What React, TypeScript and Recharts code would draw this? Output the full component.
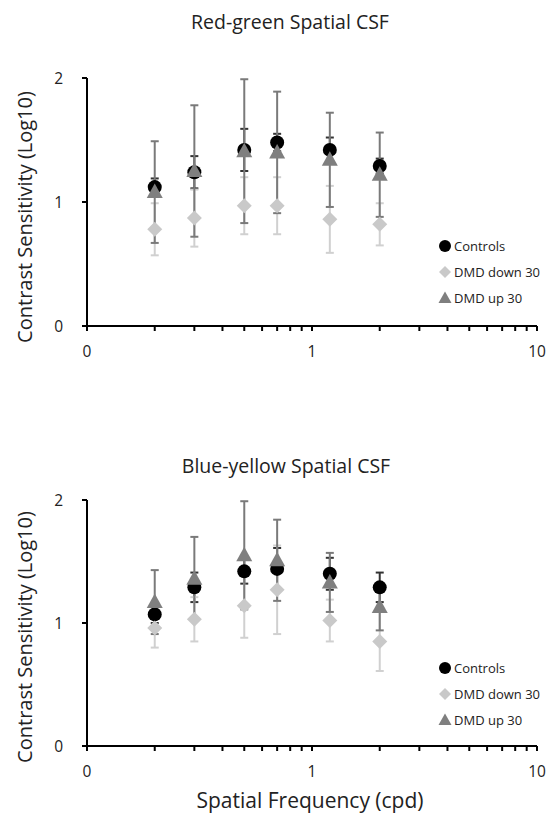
import React from "react";
import { ScatterChart, Scatter, XAxis, YAxis, ErrorBar, Legend } from "recharts";

// spatial frequencies (cpd)
const FREQ = [0.2, 0.3, 0.5, 0.7, 1.2, 2];

const X_TICKS = [0.1, 0.2, 0.3, 0.4, 0.5, 0.6, 0.7, 0.8, 0.9, 1, 2, 3, 4, 5, 6, 7, 8, 9, 10];
const X_LABELS: Record<string, string> = { "0.1": "0", "1": "1", "10": "10" };
const Y_TICKS = [0, 1, 2];

// Red-green
const RG_CONTROLS = [1.12, 1.24, 1.42, 1.48, 1.42, 1.29];
const RG_CONTROLS_ERR = [0.07, 0.13, 0.17, 0.07, 0.1, 0.06];
const RG_DOWN = [0.78, 0.87, 0.97, 0.97, 0.86, 0.82];
const RG_DOWN_ERR = [0.21, 0.23, 0.23, 0.23, 0.27, 0.17];
const RG_UP = [1.08, 1.25, 1.41, 1.4, 1.34, 1.22];
const RG_UP_ERR = [0.41, 0.53, 0.58, 0.49, 0.38, 0.34];

// Blue-yellow
const BY_CONTROLS = [1.07, 1.29, 1.42, 1.44, 1.4, 1.29];
const BY_CONTROLS_ERR = [0.07, 0.12, 0.1, 0.17, 0.13, 0.12];
const BY_DOWN = [0.96, 1.03, 1.14, 1.27, 1.02, 0.85];
const BY_DOWN_ERR = [0.16, 0.18, 0.26, 0.36, 0.17, 0.24];
const BY_UP = [1.17, 1.36, 1.55, 1.51, 1.33, 1.13];
const BY_UP_ERR = [0.26, 0.34, 0.44, 0.33, 0.24, 0.19];

const FONT = "'Open Sans', 'DejaVu Sans', sans-serif";
const TEXT = "#222";

const toPoints = (vals: number[], errs: number[]) =>
  FREQ.map((x, i) => ({ x, y: vals[i], err: errs[i] }));

const CircleShape = (p: any) => <circle cx={p.cx} cy={p.cy} r={7} fill="#000" />;
const DiamondShape = (p: any) => (
  <polygon
    points={`${p.cx},${p.cy - 7.5} ${p.cx + 7.5},${p.cy} ${p.cx},${p.cy + 7.5} ${p.cx - 7.5},${p.cy}`}
    fill="#c9c9c9"
  />
);
const TriangleShape = (p: any) => (
  <polygon
    points={`${p.cx},${p.cy - 8.5} ${p.cx + 8},${p.cy + 6} ${p.cx - 8},${p.cy + 6}`}
    fill="#7f7f7f"
  />
);

const LEGEND_ITEMS = [
  { name: "Controls", icon: <circle cx={8} cy={8} r={6} fill="#000" /> },
  { name: "DMD down 30", icon: <polygon points="8,2 14,8 8,14 2,8" fill="#c9c9c9" /> },
  { name: "DMD up 30", icon: <polygon points="8,1.5 14.5,13 1.5,13" fill="#7f7f7f" /> },
];

const renderLegend = () => (
  <div style={{ fontFamily: FONT, fontSize: 13, color: TEXT }}>
    {LEGEND_ITEMS.map((it) => (
      <div key={it.name} style={{ display: "flex", alignItems: "center", height: 26 }}>
        <svg width={16} height={16}>{it.icon}</svg>
        <span style={{ marginLeft: 1 }}>{it.name}</span>
      </div>
    ))}
  </div>
);

interface PanelProps {
  top: number;
  height: number;
  marginTop: number;
  marginBottom: number;
  legendTop: number;
  controls: number[];
  controlsErr: number[];
  down: number[];
  downErr: number[];
  up: number[];
  upErr: number[];
}

const Panel: React.FC<PanelProps> = (p) => {
  const axisStroke = { stroke: "#000", strokeWidth: 2 };
  return (
    <div style={{ position: "absolute", left: 0, top: p.top }}>
      <ScatterChart
        width={553}
        height={p.height}
        margin={{ top: p.marginTop, right: 16, bottom: p.marginBottom, left: 40 }}
      >
        <XAxis
          type="number"
          dataKey="x"
          scale="log"
          domain={[0.1, 10]}
          ticks={X_TICKS}
          interval={0}
          allowDataOverflow
          height={30}
          axisLine={axisStroke}
          tickLine={axisStroke}
          tickSize={5}
          tickMargin={15}
          tickFormatter={(v: number) => X_LABELS[String(v)] ?? ""}
          tick={{ fill: TEXT, fontSize: 15.5, fontFamily: FONT }}
        />
        <YAxis
          type="number"
          dataKey="y"
          domain={[0, 2]}
          ticks={Y_TICKS}
          width={47}
          axisLine={axisStroke}
          tickLine={axisStroke}
          tickSize={5}
          tickMargin={19}
          tick={{ fill: TEXT, fontSize: 15.5, fontFamily: FONT }}
        />
        <Legend
          layout="vertical"
          align="center"
          verticalAlign="middle"
          content={renderLegend}
          wrapperStyle={{ left: 437, top: p.legendTop, width: 120 }}
        />
        <Scatter
          name="Controls"
          data={toPoints(p.controls, p.controlsErr)}
          shape={CircleShape}
          isAnimationActive={false}
        >
          <ErrorBar dataKey="err" direction="y" width={4} stroke="#333" strokeWidth={2} isAnimationActive={false} />
        </Scatter>
        <Scatter
          name="DMD down 30"
          data={toPoints(p.down, p.downErr)}
          shape={DiamondShape}
          isAnimationActive={false}
        >
          <ErrorBar dataKey="err" direction="y" width={4} stroke="#d0d0d0" strokeWidth={2} isAnimationActive={false} />
        </Scatter>
        <Scatter
          name="DMD up 30"
          data={toPoints(p.up, p.upErr)}
          shape={TriangleShape}
          isAnimationActive={false}
        >
          <ErrorBar dataKey="err" direction="y" width={4} stroke="#7a7a7a" strokeWidth={2} isAnimationActive={false} />
        </Scatter>
      </ScatterChart>
    </div>
  );
};

const centered = (x: number, y: number, size: number, rotate = false): React.CSSProperties => ({
  position: "absolute",
  left: x,
  top: y,
  transform: `translate(-50%, -50%)${rotate ? " rotate(-90deg)" : ""}`,
  whiteSpace: "nowrap",
  fontFamily: FONT,
  fontSize: size,
  color: TEXT,
  lineHeight: 1,
});

export default function App() {
  return (
    <div style={{ position: "absolute", left: 0, top: 0, width: 553, height: 813, background: "#fff" }}>
      <div style={centered(290, 22, 19.5)}>Red-green Spatial CSF</div>
      <div style={centered(25, 217, 20, true)}>Contrast Sensitivity (Log10)</div>
      <Panel
        top={0}
        height={400}
        marginTop={78}
        marginBottom={44}
        legendTop={233}
        controls={RG_CONTROLS}
        controlsErr={RG_CONTROLS_ERR}
        down={RG_DOWN}
        downErr={RG_DOWN_ERR}
        up={RG_UP}
        upErr={RG_UP_ERR}
      />
      <div style={centered(286, 466, 19.5)}>Blue-yellow Spatial CSF</div>
      <div style={centered(25, 637, 20, true)}>Contrast Sensitivity (Log10)</div>
      <Panel
        top={420}
        height={393}
        marginTop={80}
        marginBottom={37}
        legendTop={235}
        controls={BY_CONTROLS}
        controlsErr={BY_CONTROLS_ERR}
        down={BY_DOWN}
        downErr={BY_DOWN_ERR}
        up={BY_UP}
        upErr={BY_UP_ERR}
      />
      <div style={centered(310, 800, 21)}>Spatial Frequency (cpd)</div>
    </div>
  );
}
